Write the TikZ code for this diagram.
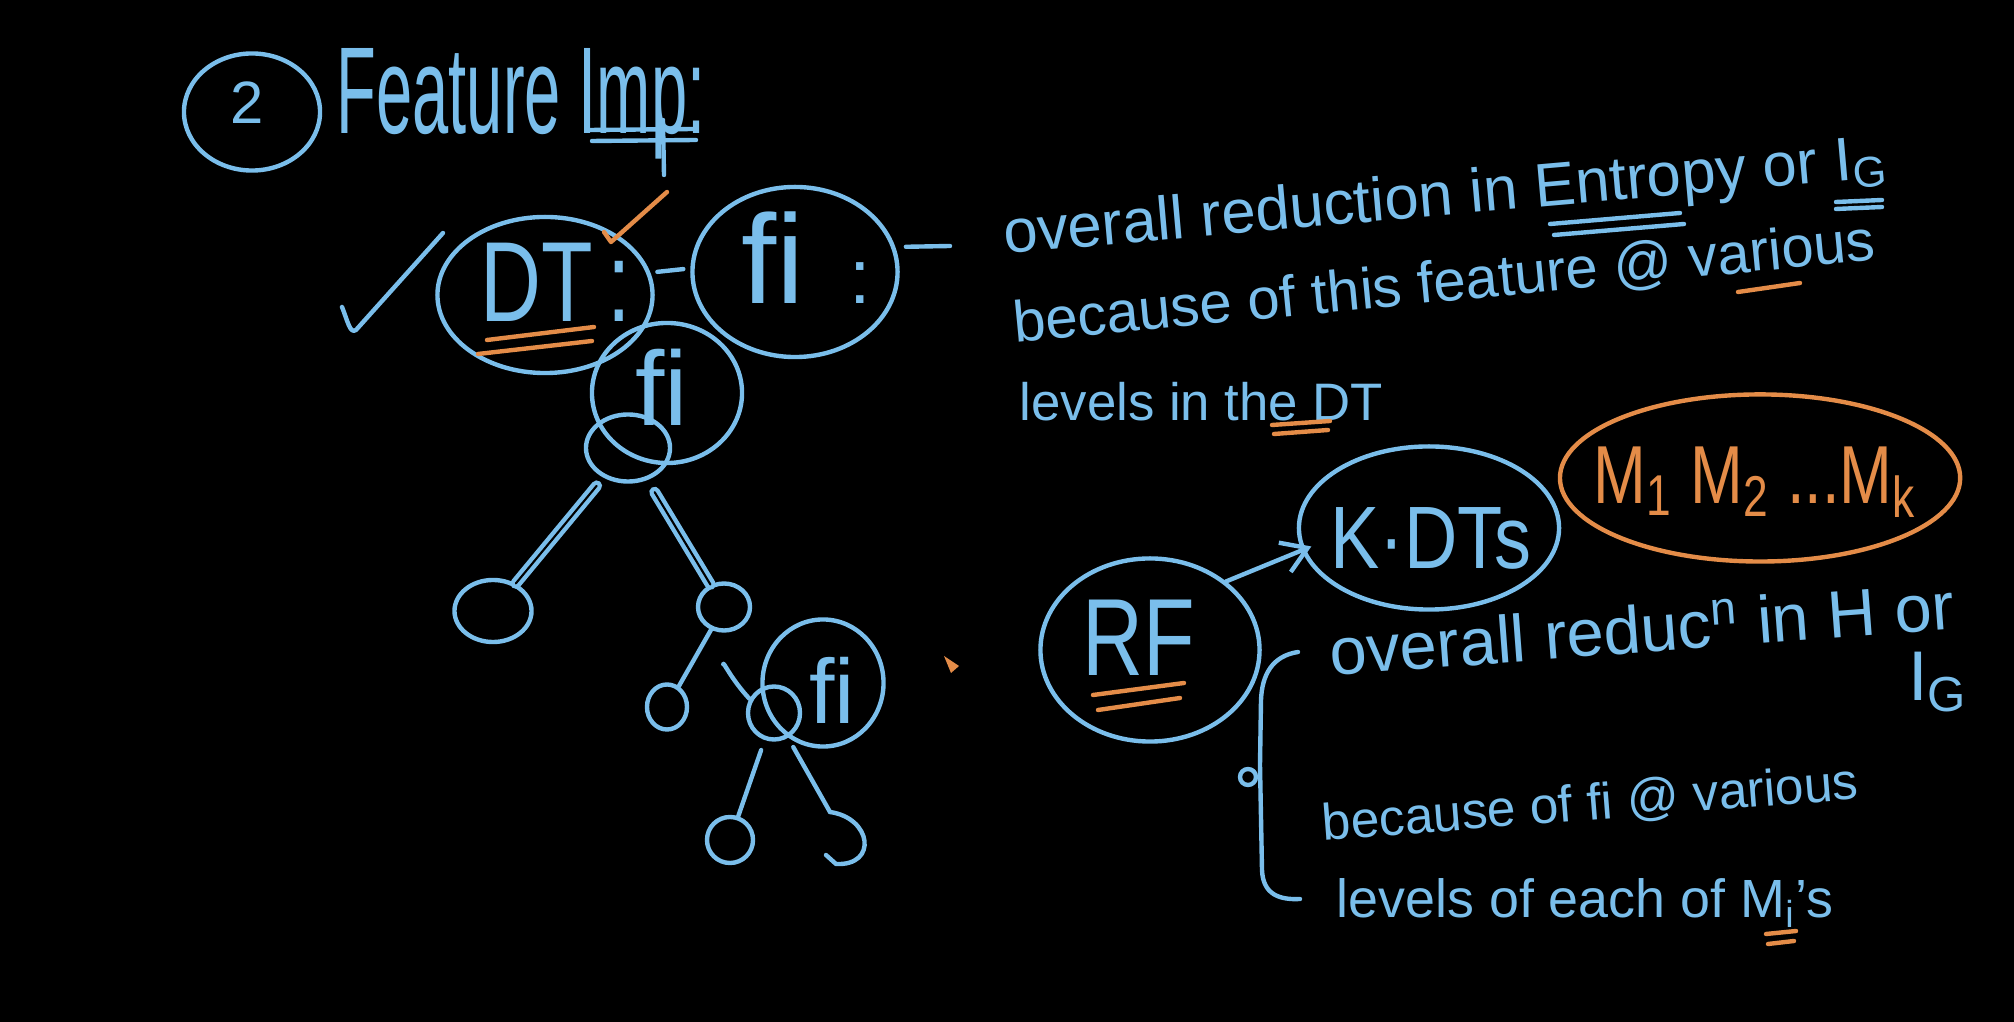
\documentclass[tikz,border=0pt]{standalone}
\usepackage{fontspec}
\setmainfont{Liberation Sans}
\usepackage{tikz}
\usetikzlibrary{arrows.meta,positioning,shapes.geometric}
\definecolor{chalk}{RGB}{122,190,235}
\definecolor{marker}{RGB}{228,140,72}
\newcommand{\penfont}[1]{\fontsize{#1}{#1}\selectfont}
\newcommand{\tallish}[2]{\scalebox{1}[#1]{#2}}
\tikzset{
  pen/.style={chalk,line width=1.25pt,line cap=round,line join=round},
  orpen/.style={marker,line width=1.25pt,line cap=round,line join=round},
  blob/.style={ellipse,draw=chalk,line width=1.25pt,inner sep=0pt},
  oblob/.style={ellipse,draw=marker,line width=1.25pt,inner sep=0pt},
  hand/.style={text=chalk,inner sep=0pt},
  twin/.style={pen,double=black,double distance=0.6pt},
  arr/.style={pen,-{Straight Barb[length=7pt,width=9pt]}},
}
\begin{document}
\begin{tikzpicture}[x=0.01cm,y=-0.01cm]
  \fill[black] (0,0) rectangle (2014,1022);
  \useasboundingbox (0,0) rectangle (2014,1022);
  % --- heading ---
  \node[blob,minimum width=1.36cm,minimum height=1.17cm] (num) at (252,112) {};
  \node[hand,font=\penfont{17}] (numText) at (247,103) {2};
  \node[hand,anchor=west,font=\penfont{18.5}] (title) at (336,104) {\tallish{1.9}{Feature Imp:}};
  \draw[pen] (590,130) -- (694,129);
  \draw[pen] (592,141) -- (696,140);
  \draw[pen] (663,120) -- (664,175);  % tail of p
  % --- single tree: DT and feature fi ---
  \draw[pen] (342,307) .. controls (348,322) and (350,334) .. (356,330) -- (443,233); % tick
  \node[blob,minimum width=2.15cm,minimum height=1.56cm] (dt) at (545,295) {};
  \node[hand,font=\penfont{24}] (dtText) at (556,282) {\tallish{1.35}{DT\,:}};
  \draw[orpen] (604,232) -- (611,242) -- (667,192); % orange tick
  \draw[orpen] (487,340) -- (594,327);
  \draw[orpen] (478,354) -- (592,341);
  \node[blob,minimum width=2.05cm,minimum height=1.70cm] (fiA) at (795,272) {};
  \node[hand,font=\penfont{36}] (fiAText) at (806,258) {fi\hspace{0.35em}\penfont{22}:};
  \coordinate (lead) at (950,246);
  \draw[pen,shorten <=2pt,shorten >=2pt] (dt.12) -- (fiA.178);
  \draw[pen,shorten <=3pt] (fiA.14) -- (lead);
  % the tree where fi is used
  \node[blob,minimum width=1.5cm,minimum height=1.4cm] (fiB) at (667,393) {};
  \node[hand,font=\penfont{30}] (fiBText) at (662,387) {fi};
  \node[blob,minimum width=0.84cm,minimum height=0.67cm] (knotB) at (628,448) {};
  \node[blob,minimum width=0.77cm,minimum height=0.62cm] (leafL) at (493,611) {};
  \node[blob,minimum width=0.52cm,minimum height=0.47cm] (nodeR) at (724,607) {};
  \node[blob,minimum width=0.40cm,minimum height=0.45cm] (leafRL) at (667,707) {};
  \node[blob,minimum width=1.21cm,minimum height=1.27cm] (fiC) at (823,683) {};
  \node[hand,font=\penfont{26}] (fiCText) at (832,690) {fi};
  \node[blob,minimum width=0.52cm,minimum height=0.53cm] (knotC) at (774,713) {};
  \node[blob,minimum width=0.46cm,minimum height=0.46cm] (leafCL) at (730,840) {};
  \coordinate (leafCR) at (830,812);
  \draw[twin,shorten <=3pt] (knotB) -- (leafL);
  \draw[twin,shorten <=4pt] (knotB) -- (nodeR);
  \draw[pen] (nodeR) -- (leafRL);
  \draw[pen,shorten <=9pt] (nodeR.265) to[bend right=20] (knotC.150);
  \draw[pen,shorten <=3pt] (knotC) -- (leafCL);
  \draw[pen,shorten <=3pt] (knotC) -- (leafCR);
  \draw[pen] (leafCR) .. controls (872,818) and (878,866) .. (836,864) -- (826,855);
  \fill[marker] (944,656) -- (959,666) -- (951,673) -- cycle; % pen cursor
  % --- what it means for one DT ---
  \node[hand,anchor=west,rotate=5,font=\penfont{17.5}] (lineA) at (1003,238)
    {overall reduction in Entropy or I\textsubscript{G}};
  \node[hand,anchor=west,rotate=5.5,font=\penfont{16.5}] (lineB) at (1013,326)
    {because of this feature @ various};
  \node[hand,anchor=west,font=\penfont{15}] (lineC) at (1019,402) {levels in the DT};
  \draw[pen] (1550,224) -- (1680,213);
  \draw[pen] (1554,235) -- (1684,224);
  \draw[pen] (1836,202) -- (1882,200);
  \draw[pen] (1836,209) -- (1882,207);
  \draw[orpen] (1738,292) -- (1800,283);
  \draw[orpen] (1272,425) -- (1330,421);
  \draw[orpen] (1274,434) -- (1328,430);
  % --- random forest ---
  \node[blob,minimum width=2.19cm,minimum height=1.83cm] (rf) at (1150,650) {};
  \node[hand,font=\penfont{24}] (rfText) at (1139,638) {\tallish{1.3}{RF}};
  \draw[orpen] (1093,695) -- (1184,683);
  \draw[orpen] (1098,710) -- (1180,698);
  \node[blob,minimum width=2.6cm,minimum height=1.63cm] (kdts) at (1429,528) {};
  \node[hand,font=\penfont{21}] (kdtsText) at (1431,538) {\tallish{1.2}{K·DTs}};
  \node[oblob,minimum width=4.0cm,minimum height=1.67cm,right=-1pt of kdts,yshift=0.5cm] (models) {};
  \node[hand,text=marker,font=\penfont{18}] (modelsText) at (1755,482)
    {\tallish{1.3}{M\textsubscript{1} M\textsubscript{2} ...M\textsubscript{k}}};
  \draw[arr,shorten >=-3pt] (rf.42) -- (kdts.190);
  \draw[pen] (1298,652) .. controls (1272,656) and (1262,675) .. (1261,700) -- (1260,765)
    -- (1262,870) .. controls (1263,895) and (1280,900) .. (1300,899);
  \draw[pen] (1248,777) circle[radius=8];
  \node[hand,anchor=west,rotate=4.3,font=\penfont{19}] (lineD) at (1329,652)
    {overall reduc\textsuperscript{n} in H or};
  \node[hand,font=\penfont{20}] (igD) at (1938,682) {I\textsubscript{G}};
  \node[hand,anchor=west,rotate=4.5,font=\penfont{14.6}] (lineE) at (1322,826)
    {because of fi @ various};
  \node[hand,anchor=west,font=\penfont{15.3}] (lineF) at (1336,903)
    {levels of each of M\textsubscript{i}'s};
  \draw[orpen] (1766,934) -- (1796,931);
  \draw[orpen] (1768,944) -- (1794,941);
\end{tikzpicture}
\end{document}
